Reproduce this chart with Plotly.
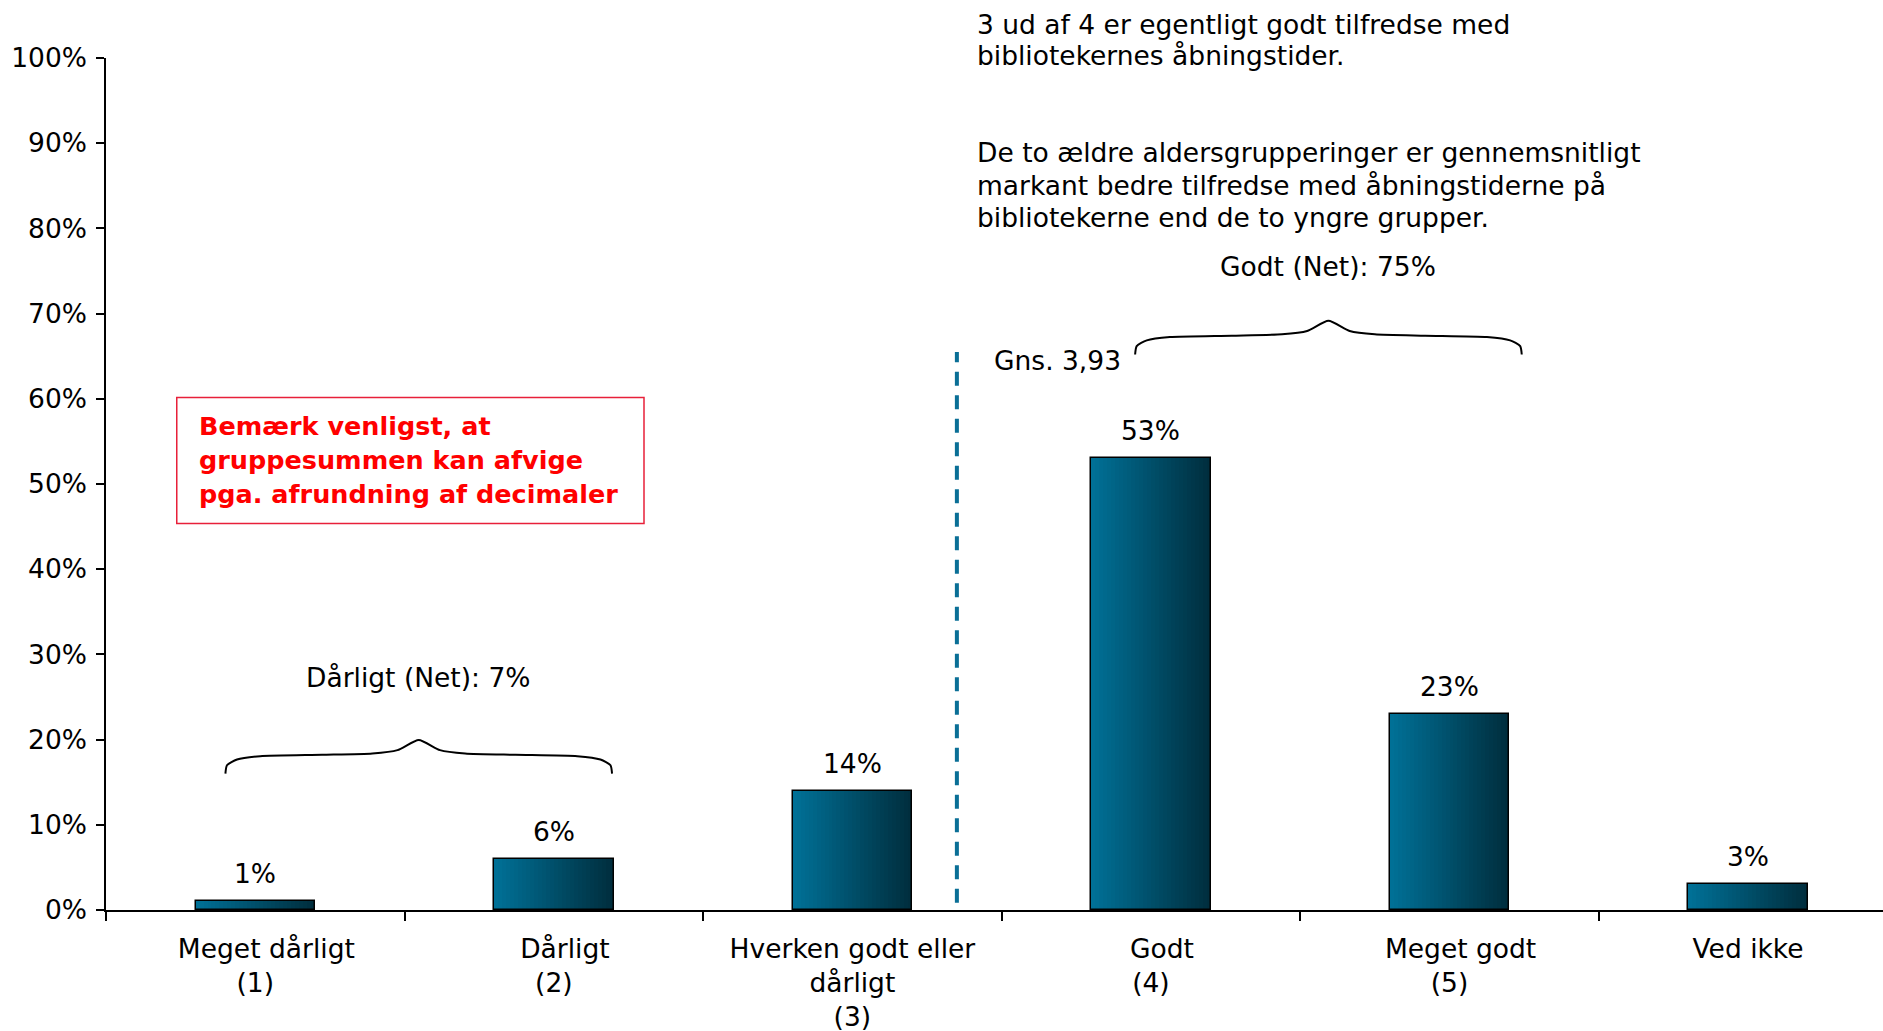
import plotly.graph_objects as go

# ---------------- data ----------------
categories = ["&nbsp;&nbsp;&#8201;Meget dårligt<br>(1)", "&nbsp;&nbsp;&#8201;Dårligt<br>(2)",
              "Hverken godt eller<br>dårligt<br>(3)",
              "&nbsp;&nbsp;&#8201;Godt<br>(4)", "&nbsp;&nbsp;&#8201;Meget godt<br>(5)", "Ved ikke"]
values = [1, 6, 14, 53, 23, 3]
value_labels = ["1%", "6%", "14%", "53%", "23%", "3%"]
y_tick_values = [0, 10, 20, 30, 40, 50, 60, 70, 80, 90, 100]
y_tick_labels = ["0%", "10%", "20%", "30%", "40%", "50%", "60%", "70%", "80%", "90%", "100%"]

mean_label = "Gns. 3,93"
mean_pos = 2.35          # position of the average marker on the category scale
mean_top = 65.5

net_labels = ["Dårligt (Net): 7%", "Godt (Net): 75%"]
net_spans = [(-0.10, 1.195), (2.947, 4.242)]   # brace extents on the category scale
net_brace_base = [16.0, 65.2]                   # brace end heights (%)
net_label_y = [27.3, 75.5]

note_lines = ["Bemærk venligst, at", "gruppesummen kan afvige", "pga. afrundning af decimaler"]
comment_lines = ["3 ud af 4 er egentligt godt tilfredse med", "bibliotekernes åbningstider.",
                 "", "De to ældre aldersgrupperinger er gennemsnitligt",
                 "markant bedre tilfredse med åbningstiderne på",
                 "bibliotekerne end de to yngre grupper."]

# ---------------- style ----------------
FONT = "DejaVu Sans, Verdana, sans-serif"
FS = 26.5
FS_NOTE = 25.5
BAR_W = 0.4
LEFT_RGB = (0, 112, 150)
RIGHT_RGB = (0, 46, 62)
N_SLICES = 30

x = list(range(len(categories)))
fig = go.Figure()

# gradient bars: successive overlapping slices (each starts further right)
for k in range(N_SLICES):
    t = k / (N_SLICES - 1)
    c = tuple(round(LEFT_RGB[i] + (RIGHT_RGB[i] - LEFT_RGB[i]) * t) for i in range(3))
    step = BAR_W / N_SLICES
    fig.add_trace(go.Bar(
        x=x, y=values, width=BAR_W - k * step, offset=-BAR_W / 2 + k * step,
        marker=dict(color="rgb(%d,%d,%d)" % c, line=dict(width=0)),
        showlegend=False, hoverinfo="skip"))
# outline
fig.add_trace(go.Bar(
    x=x, y=values, width=BAR_W, offset=-BAR_W / 2,
    marker=dict(color="rgba(0,0,0,0)", line=dict(color="black", width=1.5)),
    showlegend=False, hovertemplate="%{y}%<extra></extra>"))

# average dashed line
fig.add_trace(go.Scatter(x=[mean_pos, mean_pos], y=[0.85, mean_top], mode="lines",
                         line=dict(color="#0a6f96", width=4, dash="14px,9.5px"),
                         showlegend=False, hoverinfo="skip"))

# braces
brace_u = [0, 0.004, 0.03, 0.09, 0.25, 0.38, 0.445, 0.5, 0.555, 0.62, 0.75, 0.91, 0.97, 0.996, 1]
brace_v = [0, 0.25, 0.42, 0.52, 0.56, 0.6, 0.7, 1.0, 0.7, 0.6, 0.56, 0.52, 0.42, 0.25, 0]
BRACE_H = 3.95
for (x0, x1), base in zip(net_spans, net_brace_base):
    fig.add_trace(go.Scatter(
        x=[x0 + u * (x1 - x0) for u in brace_u],
        y=[base + v * BRACE_H for v in brace_v],
        mode="lines", line=dict(color="black", width=2, shape="spline", smoothing=0.6),
        showlegend=False, hoverinfo="skip"))

annotations = []
for xi, v, lab in zip(x, values, value_labels):
    annotations.append(dict(x=xi, y=v, text=lab, showarrow=False, yanchor="bottom",
                            yshift=10, font=dict(size=FS, color="black", family=FONT)))
for lab, (x0, x1), ly in zip(net_labels, net_spans, net_label_y):
    annotations.append(dict(x=(x0 + x1) / 2, y=ly, text=lab, showarrow=False, yanchor="middle",
                            font=dict(size=FS, color="black", family=FONT)))
annotations.append(dict(x=mean_pos + 0.118, y=64.5, text=mean_label, showarrow=False,
                        xanchor="left", yanchor="middle",
                        font=dict(size=FS, color="black", family=FONT)))

# comment text (top right) — paper y (axis range is 0..100)
comment_y = [1.0394, 1.0028, None, 0.8887, 0.8506, 0.8126]
for line, cy in zip(comment_lines, comment_y):
    if line:
        annotations.append(dict(x=2.411, y=cy, xref="x", yref="paper", text=line, showarrow=False,
                                xanchor="left", yanchor="middle",
                                font=dict(size=FS, color="black", family=FONT)))

# red note box
note_y = [56.76, 52.82, 48.87]
for line, ny in zip(note_lines, note_y):
    annotations.append(dict(x=-0.195, y=ny, text="<b>%s</b>" % line, showarrow=False,
                            xanchor="left", yanchor="middle",
                            font=dict(size=FS_NOTE, color="#ff0000", family=FONT)))

shapes = [dict(type="rect", xref="x", yref="y", x0=-0.263, x1=1.302, y0=45.35, y1=60.14,
               line=dict(color="#e8203a", width=1.5), fillcolor="rgba(0,0,0,0)", layer="above")]

fig.update_layout(
    width=1883, height=1031,
    margin=dict(l=106, r=0, t=58, b=121),
    plot_bgcolor="white", paper_bgcolor="white",
    barmode="overlay", bargap=0,
    font=dict(family=FONT, size=FS, color="black"),
    annotations=annotations, shapes=shapes,
    xaxis=dict(range=[-0.5, 5.452], tickmode="array", tickvals=x, ticktext=categories,
               automargin=False,
               ticks="outside", ticklen=14, tickcolor="rgba(0,0,0,0)",
               showline=True, linecolor="black", linewidth=1.5, showgrid=False, zeroline=False,
               tickfont=dict(size=FS, family=FONT, color="black"),
               minor=dict(tickmode="array", tickvals=[i - 0.5 for i in range(len(categories) + 1)],
                          ticks="outside", ticklen=9, tickcolor="black", tickwidth=1.5, showgrid=False)),
    yaxis=dict(range=[0, 100], tickmode="array", tickvals=y_tick_values, ticktext=y_tick_labels,
               automargin=False,
               ticks="outside", ticklen=8, tickcolor="black", tickwidth=1.5,
               showline=True, linecolor="black", linewidth=1.5, showgrid=False, zeroline=False,
               ticklabelstandoff=4,
               tickfont=dict(size=FS, family=FONT, color="black")),
)

# remove the default 8px page margin so the figure fills the window exactly
fig.write_html("out.html", config={"displayModeBar": False},
               post_script="document.body.style.margin='0';document.body.style.overflow='hidden';")
